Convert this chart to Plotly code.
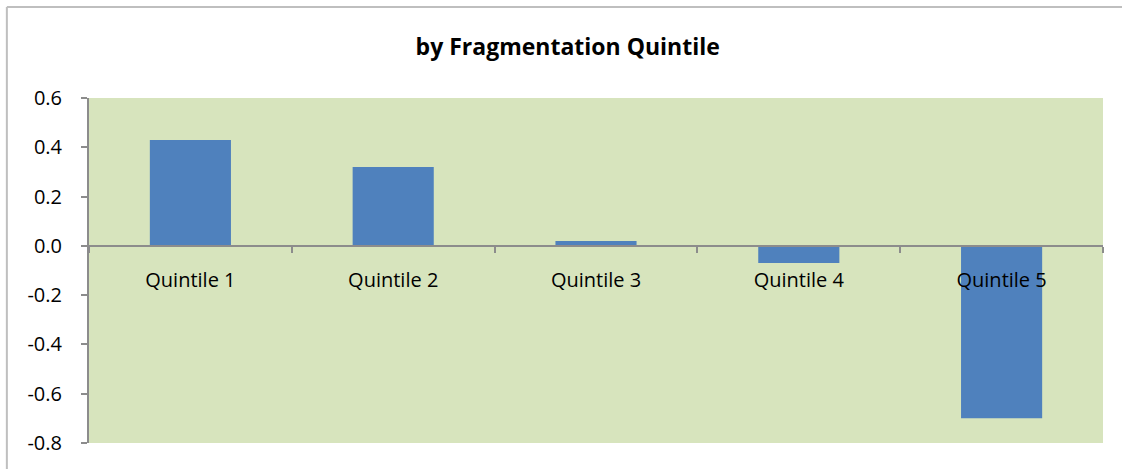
import plotly.graph_objects as go

categories = ["Quintile 1", "Quintile 2", "Quintile 3", "Quintile 4", "Quintile 5"]
values = [0.43, 0.32, 0.02, -0.07, -0.70]
y_ticks = [0.6, 0.4, 0.2, 0.0, -0.2, -0.4, -0.6, -0.8]
y_min, y_max = -0.8, 0.6

fig = go.Figure(go.Bar(x=categories, y=values, marker=dict(color="#4F81BD", line=dict(width=0)), width=0.4))

fig.update_layout(
    width=1122, height=469,
    margin=dict(l=89, r=19, t=98, b=26),
    paper_bgcolor="white",
    plot_bgcolor="#D7E4BD",
    showlegend=False,
    title=dict(text="<b>by Fragmentation Quintile</b>", x=0.506, xanchor="center", y=1 - 47 / 469, yanchor="middle",
               font=dict(family="Open Sans", size=23, color="black")),
    font=dict(family="Open Sans", size=20, color="black"),
    bargap=0.6,
)
fig.update_yaxes(range=[y_min, y_max], tickvals=y_ticks, ticktext=[f"{v:.1f}" for v in y_ticks],
                 showgrid=False, zeroline=False, showline=True, linecolor="#8C8C8C", linewidth=2,
                 ticks="outside", ticklen=6, tickcolor="#8C8C8C", tickwidth=2, ticklabelstandoff=15)
fig.update_xaxes(anchor="free", position=(0 - y_min) / (y_max - y_min), showgrid=False, zeroline=False,
                 showline=True, linecolor="#8C8C8C", linewidth=2, tickson="boundaries",
                 ticks="outside", ticklen=6, tickcolor="#8C8C8C", tickwidth=2, ticklabelstandoff=16)
# chart border
fig.add_shape(type="line", xref="paper", yref="paper", x0=-0.081, x1=1.02, y0=1.264, y1=1.264,
              line=dict(color="#BFBFBF", width=2))
fig.add_shape(type="line", xref="paper", yref="paper", x0=-0.081, x1=-0.081, y0=1.264, y1=-0.08,
              line=dict(color="#BFBFBF", width=2))
fig.write_html("out.html", config={"displayModeBar": False},
               post_script="document.body.style.margin='0px';document.body.style.padding='0px';")
